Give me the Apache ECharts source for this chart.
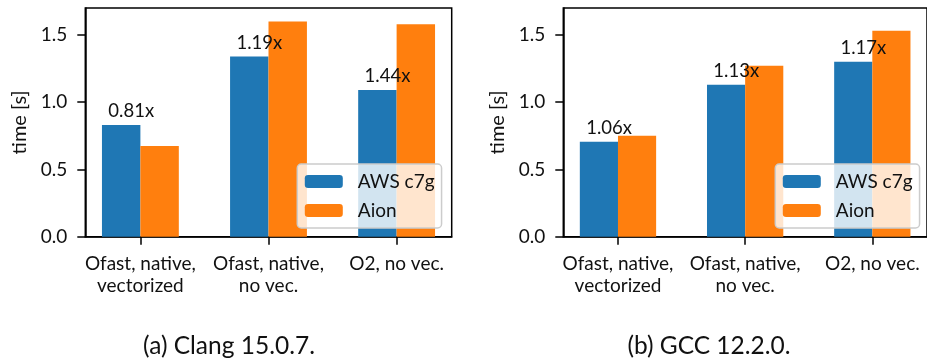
<!DOCTYPE html>
<html>
<head>
<meta charset="utf-8">
<script src="https://cdn.jsdelivr.net/npm/echarts@6/dist/echarts.min.js"></script>
<style>html,body{margin:0;padding:0;background:#fff;}#c{width:927px;height:360px;}</style>
</head>
<body>
<div id="c"></div>
<script>
// ---- data ----
const categories = ['Ofast, native,\nvectorized', 'Ofast, native,\nno vec.', 'O2, no vec.'];
const seriesNames = ['AWS c7g', 'Aion'];
const clangAws = [0.83, 1.34, 1.09];
const clangAion = [0.675, 1.60, 1.58];
const gccAws = [0.705, 1.13, 1.30];
const gccAion = [0.75, 1.27, 1.53];
const clangRatio = ['0.81x', '1.19x', '1.44x'];
const gccRatio = ['1.06x', '1.13x', '1.17x'];
const yTicks = [0, 0.5, 1.0, 1.5];
const captions = ['(a) Clang 15.0.7.', '(b) GCC 12.2.0.'];

// ---- layout / style ----
const FONT = 'Lato';
const TXT = '#111';
const BLUE = '#1f77b4', ORANGE = '#ff7f0e';
const gridW = 366.4, gridTop = 8, gridH = 228.7;
const panelLeft = [85.3, 563.3];
const captionX = [229, 709];

const chart = echarts.init(document.getElementById('c'), null, {renderer: 'canvas'});

const grids = [], xAxes = [], yAxes = [], series = [], legends = [];
const panels = [
  {aws: clangAws, aion: clangAion, ratio: clangRatio},
  {aws: gccAws, aion: gccAion, ratio: gccRatio}
];
const catIdx = categories.map((c, i) => i);

panels.forEach((p, k) => {
  grids.push({left: panelLeft[k], top: gridTop, width: gridW, height: gridH,
    show: true, borderColor: '#000', borderWidth: 1.5, backgroundColor: 'transparent', containLabel: false});
  xAxes.push({
    gridIndex: k, type: 'value', min: -0.43, max: 2.43,
    splitLine: {show: false},
    axisLine: {show: true, onZero: false, lineStyle: {color: '#000', width: 1.5}},
    axisTick: {show: true, customValues: catIdx, length: 8, lineStyle: {color: '#000', width: 1.5}},
    axisLabel: {show: true, customValues: catIdx, margin: 16, fontFamily: FONT, fontSize: 19, color: TXT,
      lineHeight: 22, align: 'center',
      formatter: v => categories[Math.round(v)]}
  });
  yAxes.push({
    gridIndex: k, type: 'value', min: 0, max: 1.70,
    name: 'time [s]', nameLocation: 'middle', nameGap: 56,
    nameTextStyle: {fontFamily: FONT, fontSize: 20, color: TXT},
    splitLine: {show: false},
    axisLine: {show: true, onZero: false, lineStyle: {color: '#000', width: 1.5}},
    axisTick: {show: true, customValues: yTicks, length: 8, lineStyle: {color: '#000', width: 1.5}},
    axisLabel: {show: true, customValues: yTicks, margin: 18, fontFamily: FONT, fontSize: 19, color: TXT,
      formatter: v => v.toFixed(1)}
  });
  series.push({
    name: seriesNames[0], type: 'bar', xAxisIndex: k, yAxisIndex: k,
    barWidth: '30%', barGap: '0%', itemStyle: {color: BLUE},
    data: p.aws.map((v, i) => [i, v])
  });
  series.push({
    name: seriesNames[1], type: 'bar', xAxisIndex: k, yAxisIndex: k,
    barWidth: '30%', barGap: '0%', itemStyle: {color: ORANGE},
    data: p.aion.map((v, i) => [i, v])
  });
  series.push({
    name: 'ratio' + k, type: 'scatter', xAxisIndex: k, yAxisIndex: k,
    symbolSize: 0, silent: true, z: 10, itemStyle: {color: '#000', opacity: 1},
    data: p.aws.map((v, i) => ({value: [i - 0.25, v + 0.03], label: {formatter: p.ratio[i]}})),
    label: {show: true, position: [0, 0], align: 'left', verticalAlign: 'bottom',
      fontFamily: FONT, fontSize: 18.5, color: '#111', opacity: 1, textBorderWidth: 0, textShadowBlur: 0}
  });
  legends.push({
    data: seriesNames, orient: 'vertical',
    left: panelLeft[k] + 212, top: 164,
    itemWidth: 38, itemHeight: 13, itemGap: 9, padding: [7.5, 7, 7.5, 7.5],
    backgroundColor: 'rgba(255,255,255,0.8)', borderColor: '#cccccc', borderWidth: 1.5, borderRadius: 4,
    selectedMode: false,
    textStyle: {fontFamily: FONT, fontSize: 19, color: TXT, lineHeight: 20, padding: [0, 0, 0, 10]}
  });
});

const gfx = captions.map((c, k) => ({type: 'text', x: captionX[k], y: 346,
  style: {text: c, fontFamily: FONT, fontSize: 24.5, fill: TXT, align: 'center', verticalAlign: 'middle'}}));

chart.setOption({
  animation: false,
  backgroundColor: '#fff',
  grid: grids, xAxis: xAxes, yAxis: yAxes, series: series, legend: legends,
  graphic: gfx
});
</script>
</body>
</html>
